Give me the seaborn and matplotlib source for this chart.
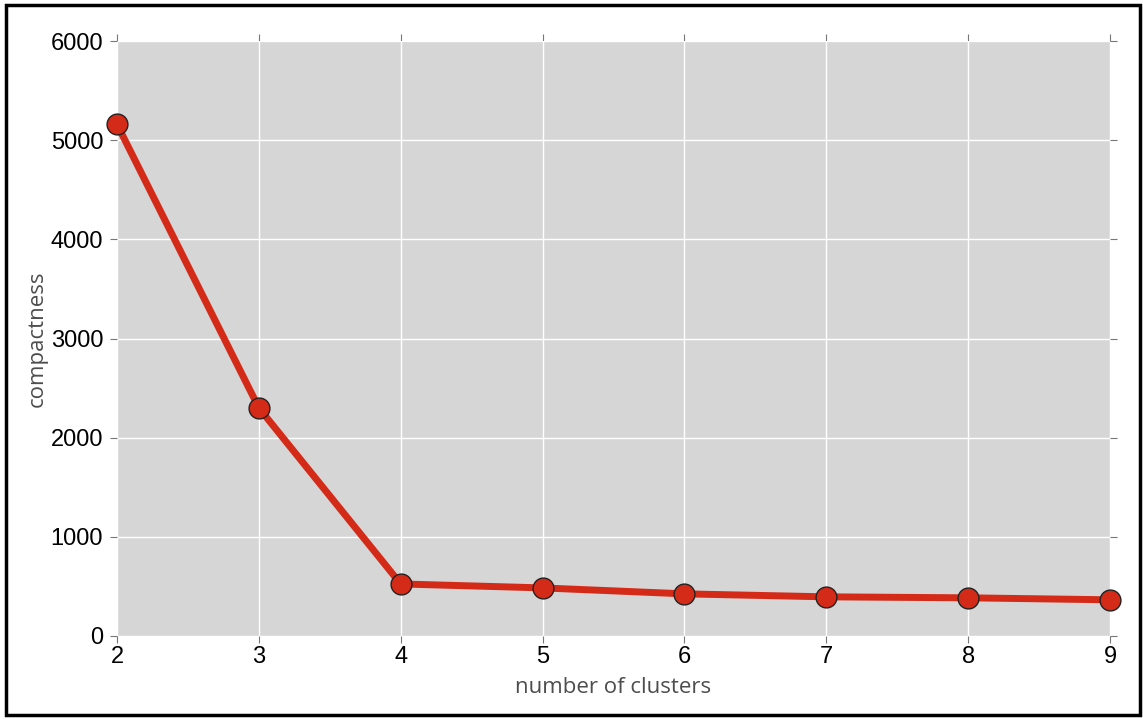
import numpy as np
import pandas as pd
import matplotlib
matplotlib.use("Agg")
import matplotlib.pyplot as plt
import matplotlib.patches as patches
import seaborn as sns

# values
clusters = [2, 3, 4, 5, 6, 7, 8, 9]
compactness = [5160, 2300, 525, 485, 425, 395, 385, 365]

df = pd.DataFrame({"clusters": clusters, "compactness": compactness})

sns.set_style("whitegrid")
plt.rcParams['font.family'] = ['Liberation Sans', 'DejaVu Sans']

fig = plt.figure(figsize=(11.43, 7.19), dpi=100)
ax = fig.add_axes([117 / 1143, 1 - 636 / 719, (1110 - 117) / 1143, (636 - 41) / 719])
ax.set_facecolor("#d6d6d6")

sns.lineplot(data=df, x="clusters", y="compactness", ax=ax, color="#d42a18",
             linewidth=5, marker="o", markersize=15, markerfacecolor="#d42a18",
             markeredgecolor="#222222", markeredgewidth=1, clip_on=False, zorder=5)

ax.set_xlim(2, 9)
ax.set_ylim(0, 6000)
ax.set_xticks(clusters)
ax.set_yticks(range(0, 6001, 1000))
ax.grid(True, color="white", linewidth=1)
for s in ax.spines.values():
    s.set_visible(False)
ax.tick_params(axis="both", which="both", direction="out", length=5, width=0.8,
               color="#777777", labelsize=17, labelcolor="black",
               top=True, right=True, bottom=True, left=True,
               labeltop=False, labelright=False)
ax.tick_params(axis="x", pad=2)
ax.tick_params(axis="y", pad=5)
ax.set_xlabel("number of clusters", fontsize=16, color="#4d4d4d", labelpad=7,
              family=["Open Sans", "DejaVu Sans"])
ax.set_ylabel("compactness", fontsize=16, color="#4d4d4d", labelpad=2,
              family=["Open Sans", "DejaVu Sans"])

# frame around the whole picture
fig.patches.append(patches.Rectangle((6 / 1143, 4 / 719), 1134 / 1143, 710 / 719,
                                     transform=fig.transFigure, fill=False,
                                     edgecolor="black", linewidth=2.5))

fig.savefig("out.png", dpi=100)
